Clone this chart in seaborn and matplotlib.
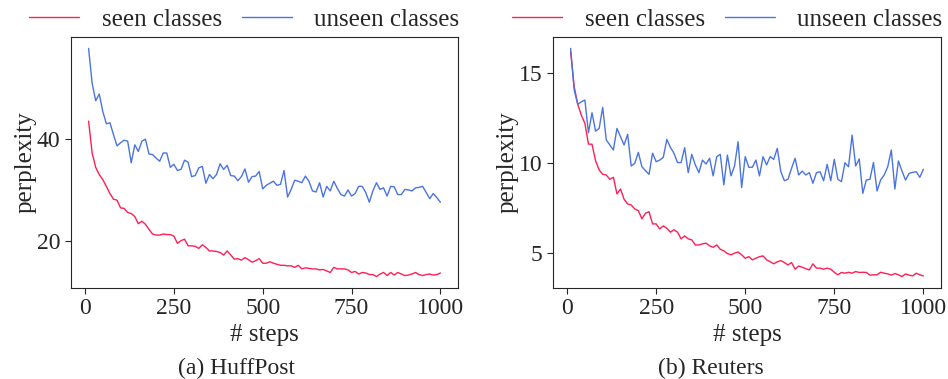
import matplotlib
matplotlib.use("Agg")
import matplotlib.pyplot as plt
import seaborn as sns
import pandas as pd

steps = list(range(10, 1001, 10))

huffpost_seen = [
    43.4, 37.2, 34.4, 33.0, 32.0, 30.7, 29.3, 28.2, 28.0, 26.5, 26.4, 25.6, 25.4, 24.8, 23.4, 23.9, 23.3,
    22.3, 21.4, 21.2, 21.2, 21.4, 21.3, 21.3, 21.0, 19.6, 20.1, 20.4, 19.1, 19.1, 19.0, 18.6, 19.3, 18.8,
    18.1, 18.1, 18.0, 17.8, 17.3, 18.1, 17.3, 16.5, 16.6, 16.3, 16.8, 16.4, 15.9, 16.2, 16.6, 15.7, 15.7,
    16.0, 15.7, 15.5, 15.3, 15.3, 15.2, 15.2, 14.9, 15.3, 14.6, 14.8, 14.7, 14.6, 14.6, 14.4, 14.5,
    14.2, 13.9, 14.9, 14.6, 14.6, 14.6, 14.4, 13.9, 14.1, 13.6, 13.9, 13.8, 13.5, 13.5, 13.1, 13.6, 13.9,
    13.3, 13.9, 13.4, 13.9, 13.6, 13.3, 13.4, 13.6, 13.9, 13.5, 13.3, 13.5, 13.6, 13.4, 13.5, 13.8,
]
huffpost_unseen = [
    57.6, 50.8, 47.4, 48.7, 45.3, 42.9, 43.1, 40.8, 38.6, 39.2, 39.7, 39.5, 35.3, 38.8, 37.5, 39.5, 39.9,
    37.0, 36.9, 36.2, 35.6, 37.2, 37.2, 34.4, 35.0, 33.8, 34.0, 35.8, 35.4, 32.6, 32.8, 34.3, 34.6, 31.3,
    33.0, 32.2, 33.0, 35.1, 34.0, 34.8, 32.8, 32.7, 31.8, 32.6, 34.1, 31.5, 32.6, 32.7, 33.6, 30.2, 30.9,
    31.3, 31.7, 30.9, 31.1, 33.8, 28.6, 30.1, 31.9, 31.7, 31.4, 32.7, 31.7, 29.8, 29.6, 31.4, 28.6,
    30.7, 29.8, 31.7, 30.3, 29.1, 28.8, 30.0, 28.8, 29.3, 30.7, 30.7, 29.5, 27.6, 29.8, 31.4, 30.1, 30.4,
    28.8, 30.7, 30.6, 29.1, 29.1, 30.1, 30.0, 29.8, 30.4, 30.5, 30.7, 29.5, 28.3, 29.3, 28.5, 27.6,
]
reuters_seen = [
    16.2, 14.26, 13.28, 12.68, 12.22, 11.07, 11.06, 10.14, 9.63, 9.39, 9.35, 9.11, 9.22, 8.3, 8.57, 8.0,
    7.74, 7.68, 7.46, 7.37, 6.91, 7.22, 7.31, 6.63, 6.63, 6.35, 6.52, 6.39, 6.17, 6.3, 6.17, 5.8, 5.96, 5.8,
    5.74, 5.46, 5.46, 5.52, 5.56, 5.41, 5.33, 5.46, 5.22, 5.13, 4.98, 4.91, 5.0, 5.07, 4.91, 4.72, 4.81,
    4.63, 4.72, 4.81, 4.85, 4.63, 4.53, 4.41, 4.52, 4.59, 4.48, 4.35, 4.48, 4.11, 4.29, 4.22, 4.14,
    4.07, 4.41, 4.17, 4.17, 4.11, 4.17, 4.11, 3.94, 3.8, 3.93, 3.89, 3.94, 3.89, 3.98, 3.93, 3.94, 3.93,
    3.78, 3.8, 3.8, 3.94, 3.89, 3.85, 3.78, 3.87, 3.8, 3.7, 3.85, 3.78, 3.74, 3.89, 3.8, 3.74,
]
reuters_unseen = [
    16.39, 14.07, 13.28, 13.42, 13.52, 11.7, 12.81, 11.79, 11.94, 13.11, 11.3, 11.02, 10.74, 11.94, 11.48,
    11.02, 11.61, 9.85, 10.0, 10.61, 9.81, 9.59, 9.39, 10.56, 10.09, 10.18, 10.33, 11.33, 10.89, 10.56,
    10.04, 10.04, 10.87, 9.48,
    10.5, 9.91, 9.48, 10.18, 9.96, 10.28, 9.3, 10.37, 10.5, 8.8, 10.46, 9.3, 9.85, 11.2, 8.65, 10.37, 9.78,
    9.78, 10.18, 9.3, 10.37, 9.91, 10.37, 10.22, 10.83, 9.53, 9.03, 9.11, 9.72, 10.28, 9.35, 9.57, 9.35,
    9.48, 8.89, 9.48, 9.53, 9.03, 9.94, 9.03, 10.22, 9.11, 8.98, 10.03, 9.81, 11.57, 9.85, 10.24, 8.33,
    9.07, 9.11, 10.05, 8.46, 9.07, 9.35, 9.81, 10.74, 8.57, 10.13, 9.57, 9.07, 9.44, 9.5, 9.53, 9.22, 9.67,
]

series_names = ["seen classes", "unseen classes"]
captions = ["(a) HuffPost", "(b) Reuters"]
colors = {"seen classes": "#ff1f55", "unseen classes": "#4a74e0"}

sns.set_style("ticks")
plt.rcParams["font.family"] = ["Liberation Serif", "DejaVu Serif"]

W, H = 948, 379
fig = plt.figure(figsize=(W / 100, H / 100), dpi=100)


def frame(seen, unseen):
    return pd.DataFrame({
        "steps": steps * 2,
        "perplexity": seen + unseen,
        "series": [series_names[0]] * len(steps) + [series_names[1]] * len(steps),
    })


datasets = [frame(huffpost_seen, huffpost_unseen), frame(reuters_seen, reuters_unseen)]
boxes = [(71, 458), (553, 941)]
top_px, bottom_px = 37, 288

for i, (df, (x0, x1)) in enumerate(zip(datasets, boxes)):
    ax = fig.add_axes([x0 / W, 1 - bottom_px / H, (x1 - x0) / W, (bottom_px - top_px) / H])
    sns.lineplot(data=df, x="steps", y="perplexity", hue="series", palette=colors,
                 linewidth=1.0, ax=ax, legend=False)
    ax.set_xticks([0, 250, 500, 750, 1000])
    if i == 0:
        ax.set_yticks([20, 40])
    else:
        ax.set_yticks([5, 10, 15])
    ax.tick_params(labelsize=17, length=4, width=0.8)
    ax.set_xlabel("# steps", fontsize=18, labelpad=3)
    ax.set_ylabel("perplexity", fontsize=18, labelpad=0.5)
    for s in ax.spines.values():
        s.set_linewidth(0.8)
    ax.legend(ax.get_lines()[:2], series_names, loc="lower right",
              bbox_to_anchor=(1.01, 1.015), ncol=2, frameon=False, fontsize=18,
              handlelength=2.0, handletextpad=0.9, columnspacing=0.8,
              borderaxespad=0.0, borderpad=0.1)
    fig.text((i * W / 2 + W / 4) / W, 1 - 368 / H, captions[i], ha="center", va="center",
             fontsize=17)

fig.savefig("out.png", dpi=100)
